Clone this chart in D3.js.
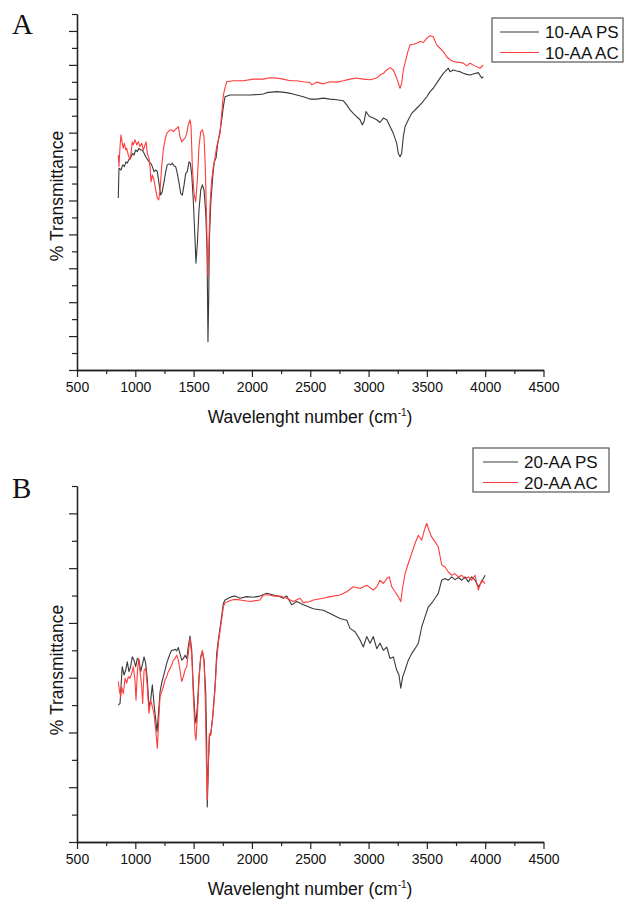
<!DOCTYPE html>
<html>
<head>
<meta charset="utf-8">
<script src="https://cdn.jsdelivr.net/npm/d3@7"></script>
<style>
  body { margin: 0; background: #fff; }
  svg { display: block; }
  text { font-family: "Liberation Sans", Arial, sans-serif; fill: #111; }
</style>
</head>
<body>
<svg id="chart" width="625" height="899"></svg>
<script>
// x ticks (wavenumber, cm-1)
var xMajor = [500, 1000, 1500, 2000, 2500, 3000, 3500, 4000, 4500];
var xMinor = [750, 1250, 1750, 2250, 2750, 3250, 3750, 4250];

// panel A : 10-AA PS (black)
var wnPS10 = [854,860,877,892,906,920,931,946,960,974,989,1003,1017,1032,1046,1060,1075,1089,1103,1117,1132,1146,1160,1175,1189,1203,1218,1231,1246,1261,1274,1289,1304,1317,1332,1346,1360,1375,1389,1403,1418,1432,1446,1460,1472,1484,1497,1512,1520,1532,1546,1561,1575,1589,1604,1615,1623,1629,1635,1647,1664,1677,1692,1707,1726,1741,1755,1769,1812,1898,1983,2069,2098,2127,2212,2298,2326,2384,2441,2498,2555,2612,2670,2727,2784,2813,2841,2869,2898,2927,2946,2961,2978,2998,3013,3041,3070,3098,3127,3156,3184,3212,3241,3255,3270,3284,3298,3313,3341,3370,3413,3456,3499,3527,3555,3584,3613,3641,3670,3684,3699,3727,3756,3784,3813,3842,3870,3898,3941,3970,3984];
var tPS10 = [50.7,59.5,59.0,60.5,60.0,61.4,61.0,62.2,62.5,63.9,63.4,64.9,64.4,65.4,64.9,64.9,63.9,62.9,62.2,61.4,61.0,60.0,58.5,59.0,58.5,55.1,51.6,52.6,55.5,58.5,60.5,60.8,60.5,61.0,60.2,60.0,58.0,55.1,52.1,51.6,54.6,58.0,58.5,61.4,61.0,57.5,50.2,38.4,31.5,37.4,47.2,53.1,54.6,53.1,46.2,35.4,8.3,20.7,38.4,49.2,57.0,61.4,62.5,66.9,70.3,73.8,77.7,80.6,81.1,81.1,81.1,81.3,81.4,81.8,82.1,81.8,81.6,81.1,80.6,79.9,79.9,80.2,79.9,79.7,79.4,78.2,76.7,75.7,74.7,73.8,72.3,73.2,76.2,75.2,74.7,74.3,73.8,73.0,74.3,73.8,71.8,69.8,66.9,63.9,62.9,63.9,68.8,71.8,73.8,75.7,77.2,78.7,80.6,82.1,83.1,84.6,86.1,87.5,88.5,89.0,88.0,88.5,88.2,88.0,87.5,87.2,87.0,87.3,87.7,86.1,86.5];

// panel A : 10-AA AC (red)
var wnAC10 = [854,860,869,877,888,897,906,918,926,940,954,963,974,983,997,1012,1026,1040,1055,1069,1083,1092,1103,1117,1126,1135,1146,1160,1175,1189,1201,1212,1226,1240,1255,1269,1283,1298,1312,1326,1340,1355,1369,1383,1398,1412,1426,1441,1454,1469,1478,1489,1503,1518,1532,1546,1561,1575,1589,1600,1609,1617,1623,1632,1641,1655,1669,1683,1698,1726,1743,1755,1769,1784,1840,1926,2012,2098,2155,2212,2269,2326,2384,2441,2498,2513,2555,2612,2670,2727,2784,2841,2898,2955,3013,3070,3098,3127,3156,3184,3212,3241,3255,3270,3284,3298,3319,3341,3356,3384,3413,3441,3470,3499,3527,3555,3584,3613,3641,3670,3699,3727,3756,3784,3813,3842,3870,3913,3956,3984];
var tAC10 = [63.4,60.0,65.9,69.3,66.9,65.4,66.9,64.9,65.4,63.4,62.0,63.9,67.3,66.4,67.9,66.4,67.3,65.9,66.9,64.9,66.4,67.3,63.9,62.5,60.0,55.5,57.5,56.1,53.1,50.7,50.2,53.1,60.0,64.9,67.9,69.8,70.3,70.8,70.8,70.3,70.8,71.3,71.8,68.8,67.3,67.9,68.4,69.8,72.3,73.8,71.8,60.0,52.1,49.6,56.1,65.9,70.3,70.8,68.8,60.0,47.2,35.4,27.5,38.4,49.2,56.1,60.0,62.5,65.9,69.8,76.7,81.1,83.2,85.0,85.3,85.3,85.8,85.8,86.2,86.1,85.8,85.3,85.3,85.0,84.8,84.1,84.9,84.4,85.0,84.9,85.3,85.8,86.1,85.8,85.6,86.1,87.0,87.5,88.5,89.2,88.5,86.1,84.6,83.1,84.6,88.5,91.5,94.4,95.9,96.1,96.4,96.9,96.6,97.9,98.6,98.3,95.9,94.9,93.9,92.4,91.5,91.0,90.8,90.7,90.5,89.7,90.5,89.7,89.0,90.0];

// panel B : 20-AA PS (black)
var wnPS20 = [854,869,877,888,903,918,931,946,960,974,989,1003,1017,1032,1046,1060,1075,1089,1103,1117,1132,1146,1160,1175,1186,1201,1212,1226,1240,1255,1269,1283,1298,1312,1326,1340,1355,1369,1383,1398,1412,1426,1441,1454,1469,1484,1497,1512,1520,1532,1546,1561,1575,1589,1604,1612,1617,1626,1635,1647,1664,1683,1698,1712,1732,1755,1769,1797,1827,1855,1898,1955,2012,2069,2127,2183,2241,2269,2298,2341,2384,2441,2526,2612,2670,2755,2813,2841,2884,2927,2955,2984,3013,3041,3070,3098,3127,3156,3184,3212,3241,3261,3276,3293,3313,3341,3370,3398,3427,3456,3484,3512,3541,3570,3598,3627,3656,3684,3713,3741,3770,3799,3827,3856,3884,3913,3941,3970,3999];
var tPS20 = [25.0,25.3,28.3,32.0,30.5,31.4,32.9,31.1,32.0,33.8,33.2,32.0,33.5,33.2,31.1,32.3,33.8,32.6,29.6,24.7,25.9,28.7,25.3,22.3,20.1,24.1,27.4,29.0,30.2,31.4,32.6,33.5,34.4,35.0,35.0,35.2,34.9,35.5,34.4,33.2,33.5,34.1,33.5,35.6,37.6,35.0,28.3,22.9,21.7,24.7,30.2,33.8,34.7,33.2,27.1,18.0,6.4,13.7,19.2,19.8,22.9,28.3,34.4,36.9,39.9,43.6,44.2,44.5,44.8,44.9,44.5,44.8,44.7,44.9,45.4,45.1,44.8,44.5,44.9,43.3,43.9,43.3,42.6,42.3,41.7,40.8,40.5,39.0,38.4,36.9,35.6,37.5,36.3,37.5,35.3,36.3,35.0,35.6,33.5,33.8,31.4,30.5,28.1,30.2,31.4,33.2,34.4,35.3,36.3,39.3,41.1,42.9,43.6,44.5,45.4,47.8,48.1,47.8,48.4,47.9,48.3,47.8,48.4,47.5,48.4,47.8,46.6,47.5,48.7];

// panel B : 20-AA AC (red)
var wnAC20 = [854,863,875,883,897,912,926,940,954,969,983,997,1006,1017,1029,1040,1055,1063,1075,1089,1103,1117,1132,1146,1160,1175,1189,1201,1212,1226,1240,1255,1269,1283,1298,1312,1326,1340,1355,1369,1383,1398,1412,1426,1441,1454,1469,1484,1497,1512,1520,1532,1546,1561,1575,1589,1600,1609,1617,1626,1635,1647,1664,1683,1698,1712,1732,1755,1769,1797,1827,1855,1898,1983,2069,2098,2155,2183,2241,2298,2355,2412,2441,2498,2526,2612,2670,2755,2813,2869,2927,2984,3041,3070,3098,3127,3156,3178,3199,3227,3255,3276,3293,3313,3341,3370,3398,3427,3456,3478,3499,3518,3541,3570,3598,3627,3656,3684,3713,3741,3770,3799,3827,3856,3884,3913,3941,3970,3999];
var tAC20 = [29.3,27.7,26.5,28.3,27.1,29.9,29.0,30.2,29.9,30.8,32.0,29.6,25.9,30.8,33.5,31.4,28.3,25.3,31.4,31.7,28.3,23.5,25.9,24.7,23.5,20.4,17.1,22.3,26.5,27.4,28.3,29.6,30.2,31.1,31.7,32.3,33.2,33.5,34.1,33.2,31.4,29.3,30.2,31.4,32.0,34.4,37.2,34.1,27.1,19.8,18.6,22.9,29.6,33.8,35.0,33.2,25.9,15.0,7.7,14.4,19.8,19.5,22.9,27.7,33.2,36.3,39.3,42.9,43.7,43.9,44.2,44.3,44.2,43.9,44.2,45.1,45.1,44.9,44.9,44.5,43.9,44.5,43.7,43.9,44.2,44.5,44.8,45.1,45.7,46.6,46.3,46.9,46.0,46.6,47.8,47.2,48.1,48.4,46.6,45.7,44.8,43.9,46.6,49.0,50.9,52.7,54.5,56.0,55.1,56.9,58.2,56.9,55.7,54.8,53.9,50.6,50.2,49.3,48.7,49.0,48.4,48.7,48.1,48.4,47.8,48.7,46.0,47.8,47.2];

var svg = d3.select("#chart");

var x = d3.scaleLinear().domain([500, 4500]).range([77, 543.5]);

var drawPanel = function(cfg)
{
    var y = d3.scaleLinear().domain([0, cfg.yMax]).range([cfg.bottom, cfg.top]);
    var g = svg.append("g");

    var yMajor = d3.range(0, cfg.yMax + 1, 10);
    var yMinor = d3.range(5, cfg.yMax + 1, 10);

    // minor ticks first so the major axis line sits on top
    g.append("g").attr("transform", "translate(0," + cfg.bottom + ")")
        .call(d3.axisBottom(x).tickValues(xMinor).tickSize(4).tickSizeOuter(0).tickFormat(""));
    g.append("g").attr("class", "xaxis").attr("transform", "translate(0," + cfg.bottom + ")")
        .call(d3.axisBottom(x).tickValues(xMajor).tickSize(7).tickSizeOuter(0).tickPadding(5)
            .tickFormat(d3.format("d")));
    g.append("g").attr("transform", "translate(77,0)")
        .call(d3.axisLeft(y).tickValues(yMinor).tickSize(5).tickSizeOuter(0).tickFormat(""));
    g.append("g").attr("transform", "translate(77,0)")
        .call(d3.axisLeft(y).tickValues(yMajor).tickSize(8).tickSizeOuter(0).tickFormat(""));

    g.selectAll(".domain").attr("stroke", "#222").attr("stroke-width", 1.3);
    g.selectAll(".tick line").attr("stroke", "#222").attr("stroke-width", 1.2);
    g.selectAll(".xaxis text").style("font-family", "'Liberation Sans', Arial, sans-serif")
        .style("font-size", "14px").attr("fill", "#111");

    // spectra
    var line = d3.line().x(function(d){ return x(d[0]); }).y(function(d){ return y(d[1]); });
    cfg.series.forEach(function(s)
    {
        g.append("path")
            .datum(d3.zip(s.wn, s.t))
            .attr("d", line)
            .attr("fill", "none")
            .attr("stroke", s.color)
            .attr("stroke-width", 1.1)
            .attr("stroke-linejoin", "round");
    });

    // axis titles
    var title = g.append("text")
        .attr("x", 310).attr("y", cfg.bottom + 53)
        .attr("text-anchor", "middle")
        .style("font-size", "17.5px");
    title.append("tspan").text("Wavelenght number (cm");
    title.append("tspan").attr("dy", -7).style("font-size", "10px").text("-1");
    title.append("tspan").attr("dy", 7).text(")");

    g.append("text")
        .attr("transform", "translate(63," + cfg.ylabelY + ") rotate(-90)")
        .attr("text-anchor", "middle")
        .style("font-size", "17.5px")
        .text("% Transmittance");

    // panel letter
    g.append("text")
        .attr("x", 12).attr("y", cfg.letterY)
        .style("font-family", "'Liberation Serif', 'Times New Roman', serif")
        .style("font-size", "29px")
        .text(cfg.letter);

    // legend
    var lg = svg.append("g");
    lg.append("rect")
        .attr("x", cfg.legend.x).attr("y", cfg.legend.y)
        .attr("width", cfg.legend.w).attr("height", 44)
        .attr("fill", "#fff").attr("stroke", "#555").attr("stroke-width", 1.2);
    cfg.series.forEach(function(s, i)
    {
        var ry = cfg.legend.y + 14 + i * 20.5;
        lg.append("line")
            .attr("x1", cfg.legend.x + cfg.legend.pad).attr("x2", cfg.legend.x + cfg.legend.pad + cfg.legend.len)
            .attr("y1", ry).attr("y2", ry)
            .attr("stroke", s.color).attr("stroke-width", 1.2);
        lg.append("text")
            .attr("x", cfg.legend.x + cfg.legend.pad + cfg.legend.len + 6)
            .attr("y", ry + 6)
            .style("font-size", "17px")
            .text(s.name);
    });
};

drawPanel({
    top: 14, bottom: 370, yMax: 105, ylabelY: 196, letter: "A", letterY: 34,
    legend: {x: 492, y: 18, w: 131, pad: 8, len: 39},
    series: [
        {name: "10-AA PS", wn: wnPS10, t: tPS10, color: "#3a3a3a"},
        {name: "10-AA AC", wn: wnAC10, t: tAC10, color: "#ff3b3b"}
    ]
});

drawPanel({
    top: 486, bottom: 842, yMax: 65, ylabelY: 670, letter: "B", letterY: 498,
    legend: {x: 473, y: 448, w: 136, pad: 10, len: 35},
    series: [
        {name: "20-AA PS", wn: wnPS20, t: tPS20, color: "#3a3a3a"},
        {name: "20-AA AC", wn: wnAC20, t: tAC20, color: "#ff3b3b"}
    ]
});
</script>
</body>
</html>
